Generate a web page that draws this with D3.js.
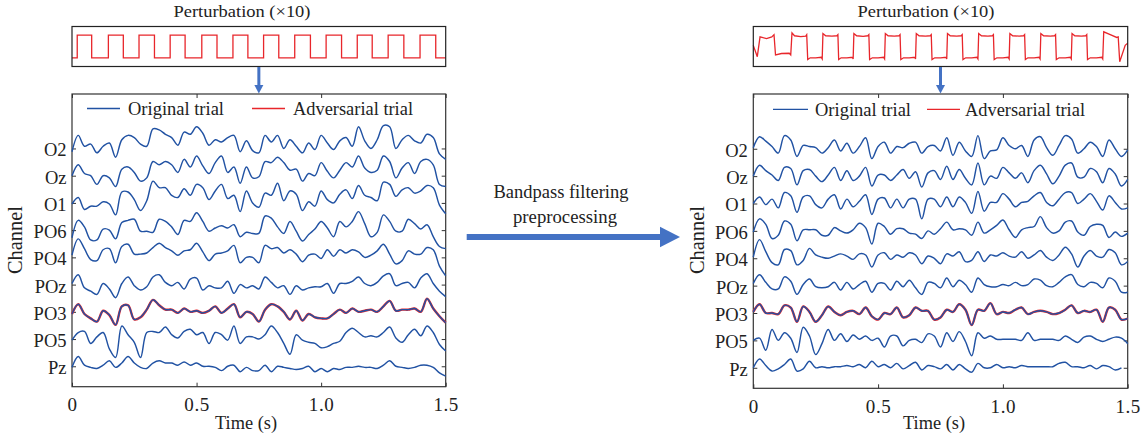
<!DOCTYPE html>
<html>
<head>
<meta charset="utf-8">
<script src="https://cdn.jsdelivr.net/npm/d3@7"></script>
<style>
  body { margin: 0; background: #fff; }
</style>
</head>
<body>
<svg id="chart" width="1144" height="440"></svg>
<script>
const channels = ["Pz", "PO5", "PO3", "POz", "PO4", "PO6", "O1", "Oz", "O2"]; // bottom -> top
const sampleStep = 0.025;
const xTicks = [0, 0.5, 1.0, 1.5];

// original trial, before filtering (left)
const rawO2  = [-3,12,2,4,-4,2,5,-8,8,12,10,4,2,18,17,13,10,3,15,13,20,14,3,8,6,10,12,-3,7,-2,-4,12,6,12,0,8,2,-4,5,-1,12,5,-1,7,10,2,20,7,0,8,21,20,0,8,12,7,5,13,10,-5,-10];
const rawOz  = [0,10,2,0,-8,0,-2,-10,6,8,3,-5,-2,13,10,13,10,3,15,8,18,9,2,12,18,3,8,-7,8,-2,-1,13,12,17,12,5,6,-5,2,0,12,4,-2,5,12,8,18,7,3,5,18,13,-2,7,12,2,13,15,10,-8,-10];
const rawO1  = [-1,5,-6,-3,-3,1,-1,-11,10,10,3,-7,2,20,14,14,7,5,13,7,17,14,3,11,17,4,7,-8,11,0,-4,9,7,18,2,11,8,-7,1,-3,11,3,0,8,12,4,16,7,5,2,19,17,6,12,14,9,11,16,14,-2,-10];
const rawPO6 = [-7,9,3,-9,-9,1,0,-8,7,9,10,-1,-1,-2,10,8,3,-4,9,8,16,8,-1,2,4,2,5,-6,-2,-3,-3,13,11,3,-3,8,-1,-10,-4,1,8,2,-6,8,3,8,17,6,-6,-2,14,8,-1,-1,10,6,1,5,-6,-15,-17];
const rawPO4 = [2,17,8,-2,-3,7,8,-5,10,12,3,3,4,9,13,9,6,2,6,7,13,5,-3,3,4,6,11,-5,0,0,-5,11,8,9,4,7,3,-4,2,3,-1,7,1,7,4,7,5,0,2,6,12,3,-6,-3,6,3,3,9,7,-8,-17];
const rawPOz = [1,9,-3,-6,-9,1,-4,-12,1,7,-1,-5,-2,7,9,2,-1,2,-4,5,6,-5,-1,-3,-3,3,-8,0,-3,-1,-4,7,2,-3,-1,-9,-1,-5,-3,-2,-2,1,-8,1,1,3,7,1,-1,2,8,10,-1,1,2,-3,6,10,1,-6,-11];
const rawPO3 = [-2,7,-2,-6,-9,1,-3,-12,5,6,-7,-5,2,11,6,2,2,-1,3,0,1,-1,1,5,-1,3,7,-5,0,-2,-9,2,7,5,0,-7,1,-8,-2,-5,-6,-6,-2,2,-1,3,0,1,2,0,5,10,1,2,2,3,0,12,3,-4,-10];
const rawPO5 = [-1,6,7,-4,2,6,-9,-17,12,4,-3,-17,6,7,6,11,4,1,7,9,4,6,-4,6,4,-1,12,-4,2,2,0,4,12,6,-4,-14,4,-1,-3,-4,-8,-7,-4,-2,6,10,6,2,3,2,6,11,1,-3,4,9,3,12,6,-5,-11];
const rawPz  = [-1,9,1,-1,-2,1,5,-1,3,9,3,-1,-2,3,5,3,3,1,4,1,3,0,0,-1,-4,0,1,-5,-1,-4,-4,1,-5,0,-1,-2,-3,-2,0,-5,-2,-5,-2,-3,-1,-1,0,-1,-1,-2,1,5,0,-1,-2,-1,1,1,-1,-6,-9];

// original trial, after bandpass filtering (right)
const filtO2  = [1,11,7,2,-4,12,8,-7,3,2,1,-4,1,8,-2,5,-4,2,10,-9,2,6,-4,2,1,5,6,-4,2,3,-2,10,-6,6,-2,-7,12,-9,-2,-1,10,3,0,3,-7,8,11,1,-6,3,12,9,-4,0,6,2,-7,8,0,-7,-1];
const filtOz  = [0,10,5,1,-4,8,7,-8,5,6,0,-5,1,8,-4,5,-4,0,8,-9,1,1,-4,1,6,-2,4,-10,3,5,-3,9,-3,6,-2,-8,12,-8,0,-2,8,3,-2,3,-6,5,10,2,-7,0,10,12,-1,-1,7,4,-6,7,2,-9,-3];
const filtO1  = [0,6,-1,4,-4,10,7,-8,6,7,-1,-4,4,8,-5,4,-3,2,8,-10,4,5,-4,4,-4,4,4,-14,4,4,-3,6,-3,6,1,-9,11,-7,1,1,9,4,-3,1,2,7,10,1,-2,4,10,10,0,4,9,2,-6,7,1,-5,-4];
const filtPO6 = [-1,11,6,-7,-4,9,6,-9,1,1,1,-4,-4,3,0,-2,1,7,3,-12,7,4,-3,2,2,-2,-3,-7,0,-3,2,8,1,2,1,-4,8,-2,1,5,10,1,-6,1,3,4,13,3,-2,0,8,9,-1,-4,4,6,5,-6,-1,-5,-2];
const filtPO4 = [1,17,6,-4,-6,8,7,-6,-2,9,3,1,0,2,4,2,-1,4,3,-8,3,5,-1,3,1,5,3,-5,2,0,-5,4,2,6,-3,-2,6,-3,3,2,5,2,1,6,0,3,7,1,-2,3,10,4,-8,2,7,2,1,8,5,-6,-3];
const filtPOz = [2,10,3,-3,-3,8,4,-8,1,6,-1,-2,-1,3,-4,3,-3,1,4,-6,2,2,-4,4,-1,5,-2,-8,3,2,-2,7,-1,5,1,-6,7,1,-1,-1,1,0,3,0,1,6,5,0,-1,3,8,10,1,-1,3,2,-2,7,4,-6,-6];
const filtPO3 = [1,8,0,0,-1,7,5,-8,6,1,-8,-2,6,1,-2,1,2,-1,5,-3,-6,0,-1,5,-4,-2,5,2,2,-6,-4,3,1,8,3,-11,3,2,9,-1,1,0,3,5,-1,1,2,1,-1,0,3,7,0,2,1,3,-8,5,3,-6,-5];
const filtPO5 = [0,2,-9,10,0,7,2,-11,12,4,-13,-3,10,0,6,-1,5,1,4,0,2,-6,4,4,-5,0,1,-2,6,4,-6,7,-1,8,-1,-14,7,2,4,1,1,1,1,0,7,0,1,1,1,0,4,1,-2,3,4,1,-1,1,3,2,-3];
const filtPz  = [0,8,2,-3,-1,3,8,-3,-1,6,0,1,0,1,1,2,1,3,0,6,1,3,0,4,-1,2,5,-2,2,1,-1,3,-2,3,-1,-4,4,0,0,3,0,1,0,2,1,1,1,1,1,4,5,1,1,0,2,-1,2,1,-2,0];

// perturbation (x10): raw square wave switch times and levels
const pertRawT = [0, 0.021, 0.079, 0.146, 0.206, 0.269, 0.331, 0.394, 0.454, 0.521, 0.582, 0.646, 0.706, 0.769, 0.830, 0.894, 0.957, 1.020, 1.082, 1.145, 1.205, 1.269, 1.332, 1.397, 1.460, 1.5];
const pertRawV = [-1, 1, -1, 1, -1, 1, -1, 1, -1, 1, -1, 1, -1, 1, -1, 1, -1, 1, -1, 1, -1, 1, -1, 1, -1, -1];

// perturbation after bandpass filtering: [time, value]
const pertFilt = [
  [0.000, 0.1], [0.016, -0.9], [0.027, 0.85], [0.053, 0.7], [0.074, 0.85], [0.083, 1.05], [0.089, -0.75], [0.113, -0.62], [0.144, -0.6], [0.150, -0.75],
  [0.155, 1.2], [0.165, 0.95], [0.190, 0.88], [0.210, 0.92], [0.214, 1.05], [0.218, -1.15], [0.228, -1.0], [0.250, -1.0], [0.272, -0.95], [0.276, -1.1],
  [0.279, 1.15], [0.290, 0.95], [0.315, 0.92], [0.335, 0.95], [0.339, 1.05], [0.342, -1.15], [0.352, -1.0], [0.375, -1.0], [0.397, -0.95], [0.400, -1.1],
  [0.403, 1.15], [0.414, 0.95], [0.440, 0.9], [0.459, 0.95], [0.463, 1.05], [0.466, -1.15], [0.477, -1.0], [0.500, -1.0], [0.522, -0.95], [0.526, -1.1],
  [0.529, 1.15], [0.540, 0.95], [0.565, 0.92], [0.584, 0.95], [0.588, 1.05], [0.591, -1.15], [0.602, -1.0], [0.625, -1.0], [0.647, -0.95], [0.650, -1.1],
  [0.653, 1.15], [0.664, 0.95], [0.690, 0.92], [0.709, 0.95], [0.713, 1.05], [0.716, -1.15], [0.727, -1.0], [0.750, -1.0], [0.772, -0.95], [0.775, -1.1],
  [0.778, 1.15], [0.789, 0.95], [0.815, 0.92], [0.833, 0.95], [0.837, 1.05], [0.840, -1.15], [0.851, -1.0], [0.875, -1.0], [0.896, -0.95], [0.900, -1.1],
  [0.903, 1.15], [0.914, 0.95], [0.940, 0.92], [0.958, 0.95], [0.962, 1.05], [0.965, -1.15], [0.976, -1.0], [1.000, -1.0], [1.021, -0.95], [1.025, -1.1],
  [1.028, 1.15], [1.039, 0.95], [1.065, 0.92], [1.083, 0.95], [1.087, 1.05], [1.090, -1.15], [1.100, -1.0], [1.125, -1.0], [1.145, -0.95], [1.149, -1.1],
  [1.152, 1.15], [1.163, 0.95], [1.190, 0.92], [1.207, 0.95], [1.211, 1.05], [1.214, -1.15], [1.225, -1.0], [1.250, -1.0], [1.270, -0.95], [1.274, -1.1],
  [1.277, 1.15], [1.288, 0.95], [1.315, 0.92], [1.332, 0.95], [1.336, 1.05], [1.339, -1.15], [1.350, -1.0], [1.375, -1.0], [1.396, -0.95], [1.400, -1.1],
  [1.404, 1.3], [1.430, 1.05], [1.456, 0.8], [1.462, 0.85], [1.468, -1.35], [1.490, 0.1], [1.500, 0.3]
];

const rawTraces  = { O2: rawO2, Oz: rawOz, O1: rawO1, PO6: rawPO6, PO4: rawPO4, POz: rawPOz, PO3: rawPO3, PO5: rawPO5, Pz: rawPz };
const filtTraces = { O2: filtO2, Oz: filtOz, O1: filtO1, PO6: filtPO6, PO4: filtPO4, POz: filtPOz, PO3: filtPO3, PO5: filtPO5, Pz: filtPz };
const adversarialChannel = "PO3";

// ---- drawing ----
const FONT = "'Liberation Serif', 'Times New Roman', Times, serif";
const blue = "#2152a3", red = "#e8262b", arrowBlue = "#4472c4";
const chGap = 25;   // vertical offset between channels (µV)
const svg = d3.select("#chart");

// text helper; width (if given) pins the rendered length to the reference
function label(parent, x, y, str, size, anchor, width) {
  const t = parent.append("text")
    .attr("x", x).attr("y", y)
    .attr("text-anchor", anchor || "start")
    .style("font-family", FONT)
    .style("font-size", size + "px")
    .style("fill", "#222")
    .text(str);
  if (width) t.attr("textLength", width).attr("lengthAdjust", "spacingAndGlyphs");
  return t;
}

const panels = [
  { x0: 72, x1: 445.7, y0: 94, y1: 386.7, traces: rawTraces, titleX: 242, timeX: 246, chanX: 15,
    legend: { blue: [87, 120], blueText: 128, red: [252, 285], redText: 293, y: 108.5 },
    pert: "raw" },
  { x0: 753.3, x1: 1127.7, y0: 94, y1: 388.3, traces: filtTraces, titleX: 926, timeX: 934, chanX: 697.5,
    legend: { blue: [773, 808], blueText: 815, red: [927, 960], redText: 965, y: 109.3 },
    pert: "filt" }
];

panels.forEach(p => {
  const x = d3.scaleLinear().domain([0, 1.5]).range([p.x0, p.x1]);
  const y = d3.scaleLinear().domain([0.25 * chGap, 11 * chGap]).range([p.y1, p.y0]);
  const g = svg.append("g");

  // perturbation box on top
  const py = d3.scaleLinear().domain([-1.77, 1.77]).range([66.5, 26.5]);
  let pertPts, curve;
  if (p.pert === "raw") {
    pertPts = pertRawT.map((t, i) => [t, pertRawV[i]]);
    curve = d3.curveStepAfter;
  } else {
    pertPts = pertFilt;
    curve = d3.curveLinear;
  }
  g.append("path")
    .attr("d", d3.line().x(d => x(d[0])).y(d => py(d[1])).curve(curve)(pertPts))
    .attr("fill", "none").attr("stroke", red).attr("stroke-width", 1.3);
  g.append("rect")
    .attr("x", p.x0).attr("y", 26.5).attr("width", p.x1 - p.x0).attr("height", 40)
    .attr("fill", "none").attr("stroke", "#222").attr("stroke-width", 1.2);
  label(g, p.titleX, 17, "Perturbation (\u00d710)", 17.5, "middle", 137);

  // small arrow from perturbation box into the plot
  const ax = x(0.75);
  g.append("rect").attr("x", ax - 1.5).attr("y", 67).attr("width", 3).attr("height", 19).attr("fill", arrowBlue);
  g.append("path").attr("d", `M${ax - 4.5},85 L${ax + 4.5},85 L${ax},93.5 Z`).attr("fill", arrowBlue);

  // axes: ticks inward on all four sides
  const axB = g.append("g").attr("transform", `translate(0,${p.y1})`)
    .call(d3.axisBottom(x).tickValues(xTicks).tickSizeInner(-4).tickSizeOuter(0).tickPadding(11)
      .tickFormat(d => d === 0 ? "0" : d3.format(".1f")(d)));
  const axT = g.append("g").attr("transform", `translate(0,${p.y0})`)
    .call(d3.axisTop(x).tickValues(xTicks).tickSizeInner(-4).tickSizeOuter(0).tickFormat(""));
  const axL = g.append("g").attr("transform", `translate(${p.x0},0)`)
    .call(d3.axisLeft(y).tickValues(channels.map((c, i) => (i + 1) * chGap))
      .tickSizeInner(-4).tickSizeOuter(0).tickPadding(5.5).tickFormat((d, i) => channels[i]));
  const axR = g.append("g").attr("transform", `translate(${p.x1},0)`)
    .call(d3.axisRight(y).tickValues(channels.map((c, i) => (i + 1) * chGap))
      .tickSizeInner(-4).tickSizeOuter(0).tickFormat(""));
  [axB, axT, axL, axR].forEach(a => {
    a.attr("font-family", null);
    a.select(".domain").remove();
    a.selectAll("line").attr("stroke", "#333");
    a.selectAll("text").style("font-family", FONT).style("font-size", "18.5px").style("fill", "#222");
  });
  axB.selectAll("text").style("font-size", "19px").style("letter-spacing", "0.6px");
  axL.selectAll("text").attr("dy", "0.4em");

  // box
  g.append("rect")
    .attr("x", p.x0).attr("y", p.y0).attr("width", p.x1 - p.x0).attr("height", p.y1 - p.y0)
    .attr("fill", "none").attr("stroke", "#333").attr("stroke-width", 1.2);

  // traces
  const line = d3.line()
    .x((d, i) => x(i * sampleStep))
    .y(d => y(d.base + d.v))
    .curve(d3.curveCatmullRom.alpha(0.5));
  channels.forEach((ch, ci) => {
    const pts = p.traces[ch].map(v => ({ base: (ci + 1) * chGap, v: v }));
    if (ch === adversarialChannel) {
      g.append("path").attr("d", line(pts))
        .attr("fill", "none").attr("stroke", red).attr("stroke-width", 2.4)
        .attr("stroke-linejoin", "round");
    }
    g.append("path").attr("d", line(pts))
      .attr("fill", "none").attr("stroke", blue).attr("stroke-width", 1.45)
      .attr("stroke-linejoin", "round");
  });

  // legend
  const L = p.legend;
  g.append("line").attr("x1", L.blue[0]).attr("x2", L.blue[1]).attr("y1", L.y).attr("y2", L.y)
    .attr("stroke", blue).attr("stroke-width", 1.3);
  label(g, L.blueText, L.y + 6.5, "Original trial", 18.5, "start", 96);
  g.append("line").attr("x1", L.red[0]).attr("x2", L.red[1]).attr("y1", L.y).attr("y2", L.y)
    .attr("stroke", red).attr("stroke-width", 1.3);
  label(g, L.redText, L.y + 6.5, "Adversarial trial", 18.5, "start", 120);

  // axis titles
  label(g, p.timeX, 429, "Time (s)", 18.5, "middle", 62);
  label(g, 0, 0, "Channel", 20, "middle", 68)
    .attr("transform", `translate(${p.chanX + 6.5},240) rotate(-90)`);
});

// big arrow between the panels
svg.append("rect").attr("x", 466.7).attr("y", 234).attr("width", 194).attr("height", 6).attr("fill", arrowBlue);
svg.append("path").attr("d", "M660,226.7 L680,237 L660,247.3 Z").attr("fill", arrowBlue);
label(svg, 561, 198.3, "Bandpass filtering", 18.5, "middle", 135);
label(svg, 565, 223.3, "preprocessing", 18.5, "middle", 104);
</script>
</body>
</html>
